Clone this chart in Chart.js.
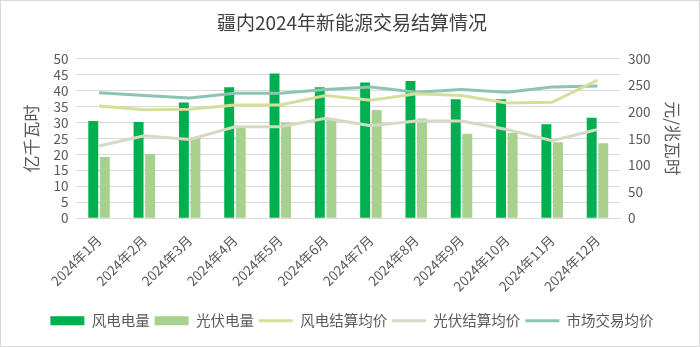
<!DOCTYPE html>
<html>
<head>
<meta charset="utf-8">
<script src="https://cdn.jsdelivr.net/npm/chart.js@4"></script>
<style>
  html, body { margin: 0; padding: 0; background: #fff; }
  #wrap { width: 698px; height: 345px; border: 1px solid #d9d9d9; }
</style>
</head>
<body>
<div id="wrap"><canvas id="chart" width="698" height="345"></canvas></div>
<script>
// 数据
const months = ["2024年1月", "2024年2月", "2024年3月", "2024年4月", "2024年5月", "2024年6月",
  "2024年7月", "2024年8月", "2024年9月", "2024年10月", "2024年11月", "2024年12月"];
const windPower = [30.5, 30.2, 36.3, 41.1, 45.4, 41.1, 42.6, 43.0, 37.3, 37.3, 29.5, 31.5];
const solarPower = [19.2, 20.1, 25.3, 28.5, 29.9, 31.3, 33.9, 31.3, 26.5, 26.7, 23.8, 23.5];
const windPrice = [211, 204, 205, 213, 213, 231, 222, 234, 231, 217, 218, 260];
const solarPrice = [136, 155, 148, 172, 172, 188, 174, 183, 183, 167, 146, 167];
const marketPrice = [236, 231, 226, 235, 235, 242, 247, 237, 242, 237, 247, 249];

const FONT = '"Noto Sans CJK SC", "Noto Sans", sans-serif';
const TXT = "#595959";

const lineDs = (label, data, color) => ({
  type: "line", label, data, yAxisID: "y1", borderColor: color, backgroundColor: color,
  borderWidth: 3, pointRadius: 0, pointStyle: "line", tension: 0, order: 1
});

new Chart(document.getElementById("chart"), {
  data: {
    labels: months,
    datasets: [
      { type: "bar", label: "风电电量", data: windPower, backgroundColor: "#00b050", yAxisID: "y",
        categoryPercentage: 0.51, barPercentage: 0.86, pointStyle: "rect", order: 2 },
      { type: "bar", label: "光伏电量", data: solarPower, backgroundColor: "#a9d18e", yAxisID: "y",
        categoryPercentage: 0.51, barPercentage: 0.86, pointStyle: "rect", order: 2 },
      lineDs("风电结算均价", windPrice, "#d4df9c"),
      lineDs("光伏结算均价", solarPrice, "#d4dac4"),
      lineDs("市场交易均价", marketPrice, "#8cc4b4")
    ]
  },
  options: {
    responsive: false,
    animation: false,
    layout: { padding: { left: 16, right: 12, top: 6, bottom: 8 } },
    plugins: {
      title: {
        display: true, text: "疆内2024年新能源交易结算情况", color: "#404040",
        font: { family: FONT, size: 19, weight: "normal" }, padding: { top: 4, bottom: 25 }
      },
      legend: {
        position: "bottom",
        labels: {
          usePointStyle: true, pointStyleWidth: 34, boxWidth: 34, boxHeight: 9,
          padding: 5, color: TXT, font: { family: FONT, size: 14.5 },
          sort: (a, b) => a.datasetIndex - b.datasetIndex
        }
      },
      tooltip: { enabled: false }
    },
    scales: {
      x: {
        offset: true,
        grid: { display: false, drawTicks: false },
        border: { color: "#d9d9d9" },
        ticks: { color: TXT, font: { family: FONT, size: 13.5 }, minRotation: 45, maxRotation: 45,
          autoSkip: false, padding: 14 }
      },
      y: {
        position: "left", min: 0, max: 50,
        ticks: { stepSize: 5, autoSkip: false, color: TXT, font: { family: FONT, size: 13.5 }, padding: 8 },
        grid: { color: "#d9d9d9", drawTicks: false },
        border: { display: false },
        title: { display: true, text: "亿千瓦时", color: TXT, font: { family: FONT, size: 17 }, padding: 4 }
      },
      y1: {
        position: "right", min: 0, max: 300,
        ticks: { stepSize: 50, autoSkip: false, color: TXT, font: { family: FONT, size: 13.5 }, padding: 8 },
        grid: { display: false, drawTicks: false },
        border: { display: false },
        title: { display: true, text: "元/兆瓦时", color: TXT, font: { family: FONT, size: 17 }, padding: 4 }
      }
    }
  }
});
</script>
</body>
</html>
